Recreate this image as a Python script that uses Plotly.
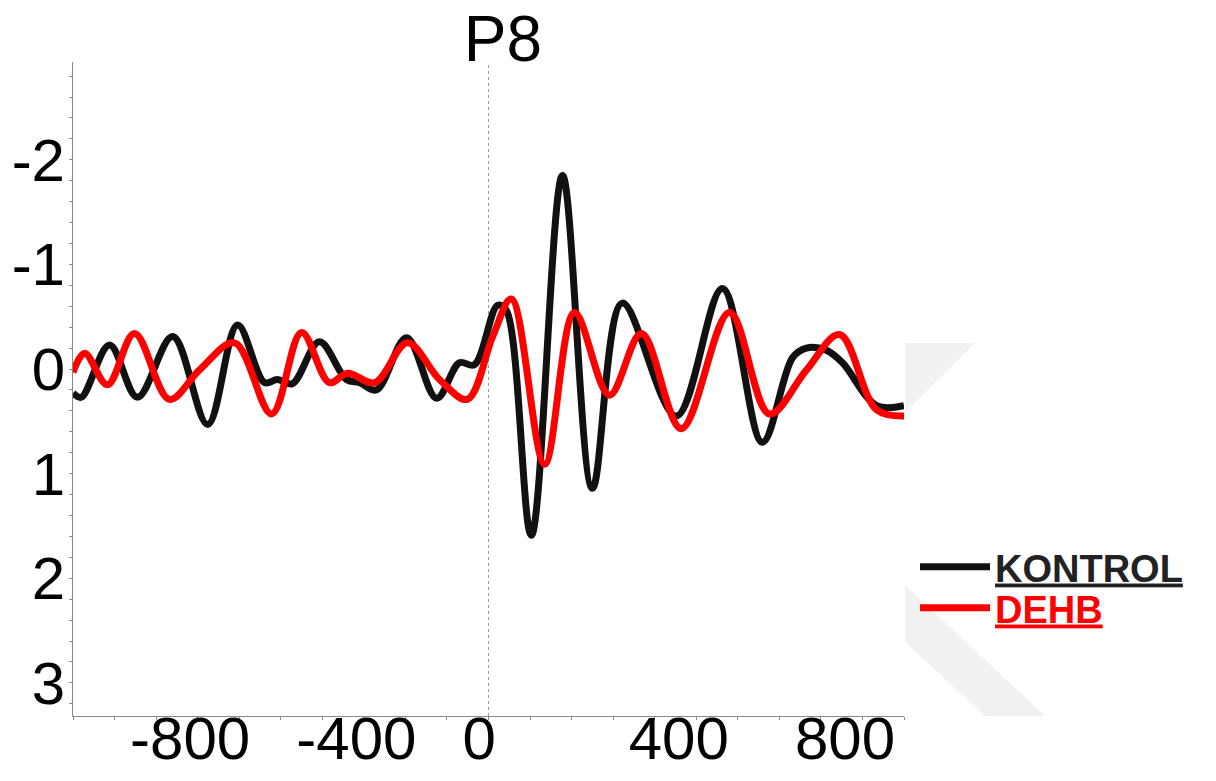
import plotly.graph_objects as go

# ---- data (time in ms, amplitude in µV) ----
kontrol_t = [-1000, -980, -912, -845, -760, -676, -604, -539, -508, -472, -407,
             -342, -310, -270, -197, -125, -70, -34, 22, 43, 103, 178, 250,
             322, 452, 563, 659, 732, 765, 813, 852, 934, 1000]
kontrol_v = [0.23, 0.27, -0.23, 0.27, -0.31, 0.53, -0.42, 0.13, 0.10, 0.14,
             -0.26, 0.10, 0.13, 0.20, -0.30, 0.28, -0.06, -0.04, -0.61, -0.56,
             1.59, -1.85, 1.14, -0.63, 0.45, -0.77, 0.70, -0.11, -0.20, -0.18,
             -0.06, 0.35, 0.35]

dehb_t = [-1000, -972, -917, -852, -768, -696, -611, -522, -450, -383, -339,
          -274, -195, -118, -51, 10, 55, 135, 207, 291, 368, 464, 580, 676,
          765, 845, 934, 1000]
dehb_v = [0.03, -0.15, 0.15, -0.34, 0.29, 0.01, -0.25, 0.43, -0.35, 0.13, 0.04,
          0.13, -0.25, 0.10, 0.29, -0.31, -0.67, 0.91, -0.54, 0.25, -0.34, 0.57,
          -0.54, 0.43, 0.01, -0.33, 0.39, 0.45]

x_tick_vals = [-800, -400, 0, 400, 800]
x_tick_text = ["-800", "-400", "0", "400", "800"]
y_tick_vals = [-2, -1, 0, 1, 2, 3]
y_tick_text = ["-2", "-1", "0", "1", "2", "3"]

series_names = ["KONTROL", "DEHB"]
series_colors = ["#111111", "#ff0000"]
title_text = "P8"

FONT = "Liberation Sans, Arial, sans-serif"

W, H = 1216, 781
PL, PR, PT, PB = 73, 904, 62, 716   # plot area (pixels)

fig = go.Figure()
fig.add_trace(go.Scatter(
    x=kontrol_t, y=kontrol_v, mode="lines",
    line=dict(color=series_colors[0], width=7, shape="spline", smoothing=1.0),
    name="<b><u>" + series_names[0] + "</u></b>", legend="legend",
))
fig.add_trace(go.Scatter(
    x=dehb_t, y=dehb_v, mode="lines",
    line=dict(color=series_colors[1], width=7, shape="spline", smoothing=1.0),
    name="<b><u>" + series_names[1] + "</u></b>", legend="legend2",
))

# dotted zero-time line
fig.add_shape(type="line", xref="x", yref="paper", x0=0, x1=0, y0=0, y1=1,
              line=dict(color="#999999", width=1, dash="dot"), layer="below")

# light grey watermark chevron (outside the plot area)
def px(xp, yp):
    return (xp - PL) / (PR - PL), (PB - yp) / (PB - PT)

def poly(points):
    pts = [px(a, b) for a, b in points]
    return "M" + " L".join(f"{a:.4f},{b:.4f}" for a, b in pts) + " Z"

fig.add_shape(type="path", xref="paper", yref="paper",
              path=poly([(905, 343), (975, 343), (905, 412)]),
              fillcolor="#f1f1f1", line=dict(width=0), layer="below")
fig.add_shape(type="path", xref="paper", yref="paper",
              path=poly([(905, 585), (1045, 716), (985, 716), (905, 642)]),
              fillcolor="#f1f1f1", line=dict(width=0), layer="below")

leg_x = (915 - PL) / (PR - PL)
common_leg = dict(x=leg_x, xanchor="left", yanchor="middle",
                  bgcolor="rgba(0,0,0,0)", itemwidth=70)

fig.update_layout(
    width=W, height=H,
    margin=dict(l=PL, r=W - PR, t=PT, b=H - PB, autoexpand=False),
    paper_bgcolor="white", plot_bgcolor="white",
    font=dict(family=FONT, color="black"),
    title=dict(text=title_text, font=dict(size=64, family=FONT, color="black"),
               x=503 / W, xanchor="center", xref="container",
               y=1 - 61 / H, yanchor="bottom", yref="container"),
    showlegend=True,
    legend=dict(y=(PB - 567) / (PB - PT),
                font=dict(size=38, family=FONT, color="#222222"), **common_leg),
    legend2=dict(y=(PB - 608) / (PB - PT),
                 font=dict(size=38, family=FONT, color="#ff0000"), **common_leg),
)

fig.update_xaxes(
    range=[-1000, 1000], tickmode="array", tickvals=x_tick_vals, ticktext=x_tick_text,
    showgrid=False, zeroline=False, automargin=False,
    showline=True, linecolor="#888888", linewidth=1,
    ticks="outside", ticklen=3, tickcolor="#888888",
    minor=dict(tick0=0, dtick=100, ticks="outside", ticklen=3, tickcolor="#888888", showgrid=False),
    tickfont=dict(size=60, family=FONT, color="black"),
    ticklabelposition="outside right", ticklabelshift=-27, ticklabelstandoff=-30,
)
fig.update_yaxes(
    range=[3.317, -2.935], tickmode="array", tickvals=y_tick_vals, ticktext=y_tick_text,
    showgrid=False, zeroline=False, automargin=False,
    showline=True, linecolor="#888888", linewidth=1,
    ticks="outside", ticklen=3, tickcolor="#888888",
    minor=dict(tick0=0, dtick=0.2, ticks="outside", ticklen=3, tickcolor="#888888", showgrid=False),
    tickfont=dict(size=60, family=FONT, color="black"),
    ticklabelstandoff=-8,
)

fig.write_html("out.html", config={"displayModeBar": False},
               post_script="document.body.style.margin='0px';")
